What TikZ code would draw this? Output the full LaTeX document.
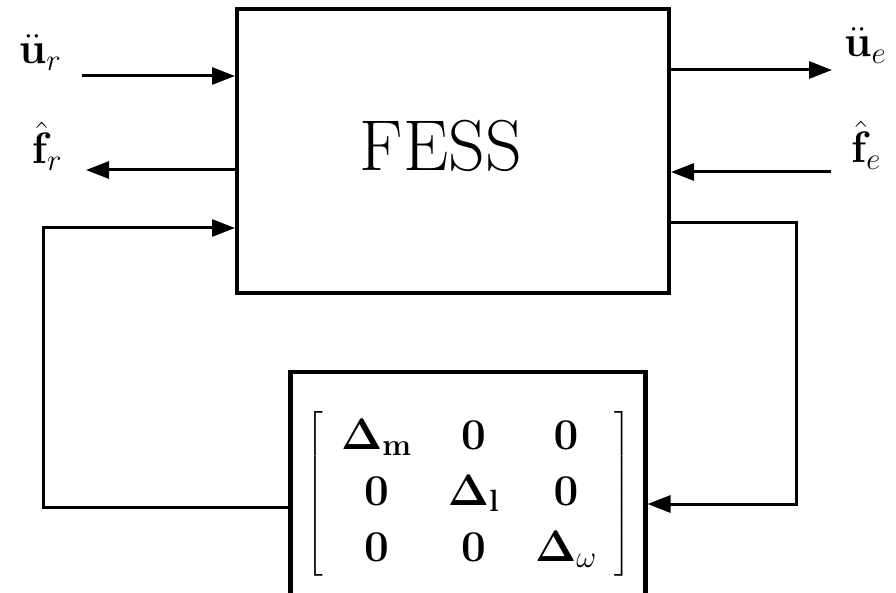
\RequirePackage{fix-cm}
\documentclass[tikz,border=0pt]{standalone}
\usepackage{amsmath,bm}
\usetikzlibrary{arrows.meta}

\begin{document}
\begin{tikzpicture}[x=1pt,y=-1pt,
  blk/.style={draw, line width=4pt, inner sep=0pt},
  wire/.style={line width=3pt},
  sig/.style={wire, -{Triangle[length=23pt,width=17pt]}},
  lbl/.style={inner sep=0pt, font=\fontsize{44}{53}\selectfont}]
\useasboundingbox (0,0) rectangle (896,593);
\clip (0,0) rectangle (896,593);

% plant block
\node[blk, minimum width=432pt, minimum height=284pt] (fess) at (453,151) {};
\node[inner sep=0pt, font=\fontsize{72}{80}\selectfont] (fesstxt) at (441,146) {FESS};

% uncertainty block (open at the bottom edge)
\node[blk, line width=4.5pt, minimum width=355pt, minimum height=244pt] (delta) at (467.75,494) {};
\node[inner sep=0pt, font=\fontsize{44}{56}\selectfont] (mat) at (469,494)
  {\setlength{\arraycolsep}{18pt}%
   $\left[\begin{array}{ccc}
     \bm{\Delta}_{\mathbf{m}} & \mathbf{0} & \mathbf{0}\\
     \mathbf{0} & \bm{\Delta}_{\mathbf{l}} & \mathbf{0}\\
     \mathbf{0} & \mathbf{0} & \bm{\Delta}_{\omega}
   \end{array}\right]$};

% signal labels
\node[lbl, anchor=base] (ur) at (40,64) {$\ddot{\mathbf{u}}_r$};
\node[lbl, anchor=base] (fr) at (47,164) {$\hat{\mathbf{f}}_r$};
\node[lbl, anchor=base] (ue) at (865,57) {$\ddot{\mathbf{u}}_e$};
\node[lbl, anchor=base] (fe) at (866,163) {$\hat{\mathbf{f}}_e$};

% free ends of the signal arrows
\coordinate (urs) at (82,76);
\coordinate (fre) at (86,170);
\coordinate (uee) at (832,70);
\coordinate (fes) at (831,172);
\coordinate (lc) at (43,228);
\coordinate (rc) at (796,223);

\draw[sig] (urs) -- (urs -| fess.west);
\draw[sig] (fre -| fess.west) -- (fre);
\draw[sig] (uee -| fess.east) -- (uee);
\draw[sig] (fes) -- (fes -| fess.east);

% feedback loop
\draw[sig] (delta.west |- 0,507) -| (lc) -- (lc -| fess.west);
\draw[sig] (rc -| fess.east) -- (rc) |- (delta.east |- 0,504);
\end{tikzpicture}
\end{document}
